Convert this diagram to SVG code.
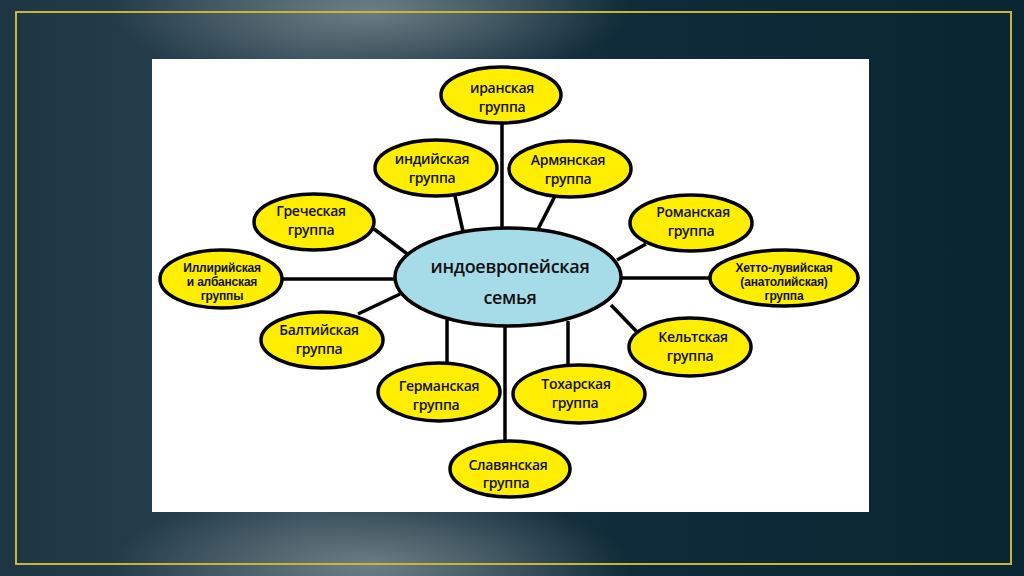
<svg xmlns="http://www.w3.org/2000/svg" width="1024" height="576" viewBox="0 0 1024 576">
<defs>
<linearGradient id="bg" x1="0" y1="0" x2="1" y2="0">
<stop offset="0" stop-color="#1e3543"/>
<stop offset="0.3" stop-color="#2c4452"/>
<stop offset="0.6" stop-color="#102b39"/>
<stop offset="1" stop-color="#0a2532"/>
</linearGradient>
<radialGradient id="glowT" cx="0.5" cy="0.5" r="0.5">
<stop offset="0" stop-color="#8a989c" stop-opacity="0.7"/>
<stop offset="1" stop-color="#8a989c" stop-opacity="0"/>
</radialGradient>
<style>
.n ellipse{fill:#ffee00;stroke:#000;stroke-width:3.5}
.n text,.c text{font-family:"Open Sans","Liberation Sans",sans-serif;font-weight:600;font-size:14px;fill:#111;text-anchor:middle;letter-spacing:-0.3px}
.n text.s{font-family:"Liberation Sans",Arial,sans-serif;font-weight:700;font-size:12px;letter-spacing:-0.2px}
#connectors line{stroke:#000;stroke-width:3.5}
.c ellipse{fill:#a6dbe8;stroke:#000;stroke-width:3.5}
.c text{font-size:18px}
</style>
</defs>
<rect width="1024" height="576" fill="url(#bg)"/>
<ellipse cx="370" cy="10" rx="260" ry="75" fill="url(#glowT)"/>
<ellipse cx="370" cy="566" rx="260" ry="75" fill="url(#glowT)"/>
<rect x="16" y="12" width="995" height="552" fill="none" stroke="#c8b63c" stroke-width="2"/>
<rect x="152" y="59" width="717" height="453" fill="#ffffff"/>
<g id="connectors">
<line x1="502" y1="122" x2="502" y2="230"/>
<line x1="455" y1="196" x2="464" y2="236"/>
<line x1="555" y1="196" x2="536" y2="233"/>
<line x1="374" y1="229" x2="410" y2="256"/>
<line x1="282" y1="279" x2="396" y2="279"/>
<line x1="646" y1="244" x2="617" y2="260"/>
<line x1="620" y1="278" x2="709" y2="278"/>
<line x1="358" y1="314" x2="400" y2="294"/>
<line x1="447" y1="320" x2="447" y2="364"/>
<line x1="505" y1="326" x2="505" y2="441"/>
<line x1="568" y1="321" x2="568" y2="366"/>
<line x1="611" y1="305" x2="638" y2="333"/>
</g>
<g id="center" class="c">
<ellipse cx="508" cy="277" rx="113" ry="49"/>
<text x="510" y="273">индоевропейская</text>
<text x="510" y="304">семья</text>
</g>
<g id="iranian" class="n">
<ellipse cx="501" cy="95" rx="60" ry="28"/>
<text x="502" y="93">иранская</text>
<text x="502" y="112">группа</text>
</g>
<g id="indian" class="n">
<ellipse cx="436" cy="168" rx="61" ry="28"/>
<text x="432" y="164">индийская</text>
<text x="432" y="183">группа</text>
</g>
<g id="armenian" class="n">
<ellipse cx="570" cy="169" rx="61" ry="28"/>
<text x="568" y="165">Армянская</text>
<text x="568" y="184">группа</text>
</g>
<g id="greek" class="n">
<ellipse cx="314" cy="222" rx="60" ry="28"/>
<text x="311" y="216">Греческая</text>
<text x="311" y="235">группа</text>
</g>
<g id="romance" class="n">
<ellipse cx="691" cy="223" rx="61" ry="28"/>
<text x="693" y="217">Романская</text>
<text x="691" y="236">группа</text>
</g>
<g id="illyrian" class="n">
<ellipse cx="221" cy="279" rx="61" ry="29"/>
<text class="s" x="222" y="272">Иллирийская</text>
<text class="s" x="222" y="286">и албанская</text>
<text class="s" x="222" y="300">группы</text>
</g>
<g id="hittite" class="n">
<ellipse cx="784" cy="278" rx="74" ry="28"/>
<text class="s" x="784" y="272">Хетто-лувийская</text>
<text class="s" x="784" y="286">(анатолийская)</text>
<text class="s" x="784" y="300">группа</text>
</g>
<g id="baltic" class="n">
<ellipse cx="322" cy="340" rx="61" ry="28"/>
<text x="319" y="335">Балтийская</text>
<text x="319" y="354">группа</text>
</g>
<g id="celtic" class="n">
<ellipse cx="690" cy="347" rx="61" ry="29"/>
<text x="693" y="342">Кельтская</text>
<text x="690" y="361">группа</text>
</g>
<g id="germanic" class="n">
<ellipse cx="439" cy="392" rx="61" ry="29"/>
<text x="439" y="391">Германская</text>
<text x="436" y="410">группа</text>
</g>
<g id="tocharian" class="n">
<ellipse cx="579" cy="394" rx="66" ry="29"/>
<text x="576" y="389">Тохарская</text>
<text x="575" y="408">группа</text>
</g>
<g id="slavic" class="n">
<ellipse cx="510" cy="469" rx="60" ry="28"/>
<text x="508" y="470">Славянская</text>
<text x="506" y="488">группа</text>
</g>
</svg>
